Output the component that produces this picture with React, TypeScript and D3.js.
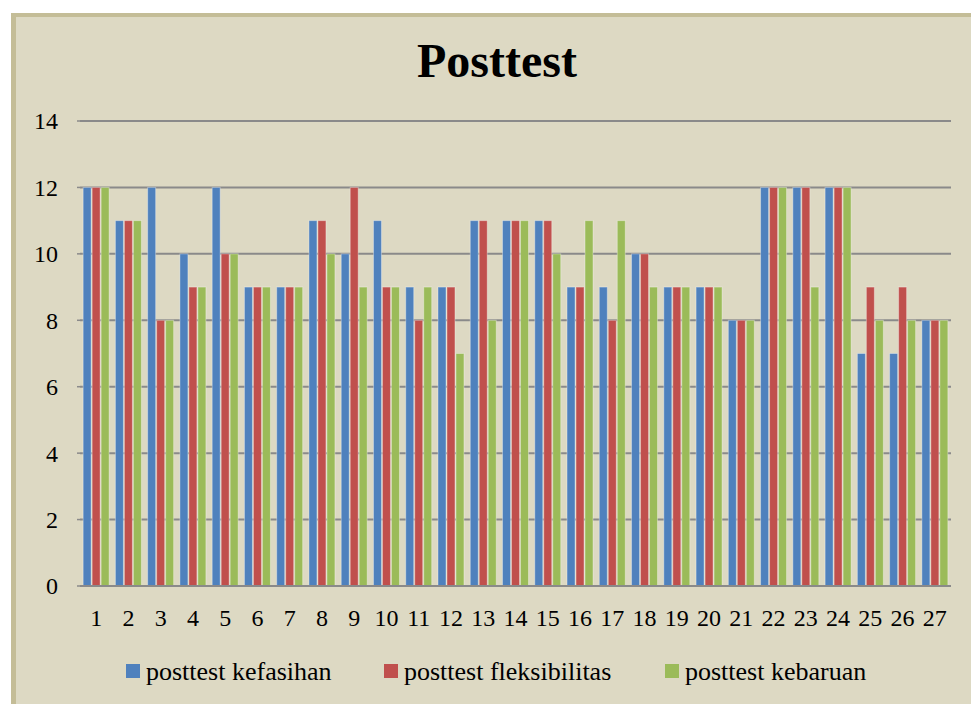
import React from "react";
import * as d3 from "d3";

const categories = Array.from({ length: 27 }, (_, i) => String(i + 1));
const seriesNames = ["posttest kefasihan", "posttest fleksibilitas", "posttest kebaruan"];
const kefasihan = [12, 11, 12, 10, 12, 9, 9, 11, 10, 11, 9, 9, 11, 11, 11, 9, 9, 10, 9, 9, 8, 12, 12, 12, 7, 7, 8];
const fleksibilitas = [12, 11, 8, 9, 10, 9, 9, 11, 12, 9, 8, 9, 11, 11, 11, 9, 8, 10, 9, 9, 8, 12, 12, 12, 9, 9, 8];
const kebaruan = [12, 11, 8, 9, 10, 9, 9, 10, 9, 9, 9, 7, 8, 11, 10, 11, 11, 9, 9, 9, 8, 12, 9, 12, 8, 8, 8];
const yTicks = [0, 2, 4, 6, 8, 10, 12, 14];
const colors = ["#4f81bd", "#c0504d", "#9bbb59"];

const W = 971;
const H = 704;
const plot = { left: 80, right: 951, top: 121, bottom: 586 };

export default function App() {
  const series = [kefasihan, fleksibilitas, kebaruan];
  const x = d3.scaleBand().domain(categories).range([plot.left, plot.right]).paddingInner(0.164).paddingOuter(0.082);
  const inner = d3.scaleBand().domain(["0", "1", "2"]).range([0, x.bandwidth()]).padding(0);
  const y = d3.scaleLinear().domain([0, 14]).range([plot.bottom, plot.top]);

  const legendItems = [
    { sq: 126, tx: 146 },
    { sq: 384, tx: 404 },
    { sq: 665, tx: 685 },
  ];

  return (
    <svg width={W} height={H} style={{ position: "absolute", left: 0, top: 0, display: "block" }}
      fontFamily="'Liberation Serif', 'Times New Roman', serif">
      <rect x={0} y={0} width={W} height={H} fill="#ffffff" />
      <rect x={11} y={13} width={W + 20} height={H + 20} fill="#c4bd97" />
      <rect x={16} y={17} width={W + 20} height={H + 20} fill="#ddd9c3" />

      <text x={497} y={77} textAnchor="middle" fontSize={48} fontWeight="bold" fill="#000">Posttest</text>

      {yTicks.map((t) => (
        <g key={t}>
          <line x1={plot.left} x2={plot.right} y1={y(t)} y2={y(t)} stroke="#8a8a8a" strokeWidth={2} />
          <line x1={plot.left - 3} x2={plot.left} y1={y(t)} y2={y(t)} stroke="#8a8a8a" strokeWidth={1.5} />
          <text x={58} y={y(t)} dy="0.35em" textAnchor="end" fontSize={24} fill="#000">{t}</text>
        </g>
      ))}

      {categories.map((c, i) => (
        <g key={c}>
          {series.map((s, k) => {
            const bx = (x(c) as number) + (inner(String(k)) as number);
            return (
              <rect key={k} x={bx + 0.5} y={y(s[i])} width={inner.bandwidth() - 1} height={y(0) - y(s[i])}
                fill={colors[k]} stroke="rgba(255,255,255,0.35)" strokeWidth={1} />
            );
          })}
          <text x={(x(c) as number) + x.bandwidth() / 2} y={626} textAnchor="middle" fontSize={24} fill="#000">{c}</text>
        </g>
      ))}
      <line x1={plot.left} x2={plot.right} y1={y(0)} y2={y(0)} stroke="#8a8a8a" strokeWidth={2} />

      {seriesNames.map((n, k) => (
        <g key={n}>
          <rect x={legendItems[k].sq} y={664} width={14} height={14} fill={colors[k]} />
          <text x={legendItems[k].tx} y={680} fontSize={26} fill="#000">{n}</text>
        </g>
      ))}
    </svg>
  );
}
